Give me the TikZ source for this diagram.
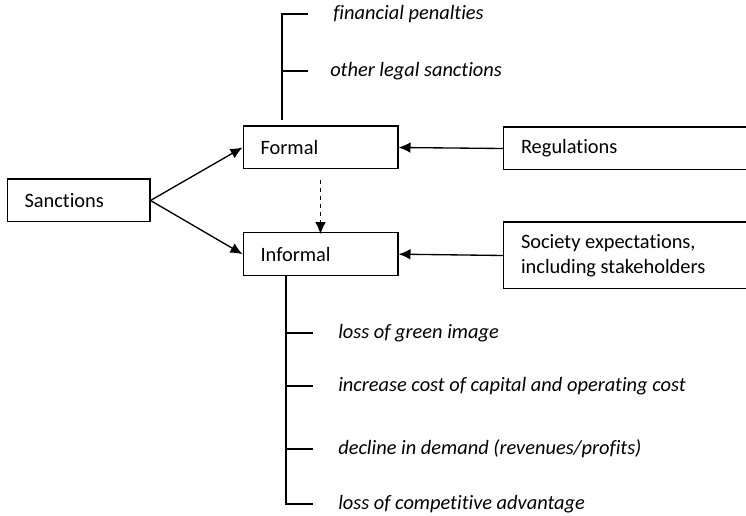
\documentclass[tikz,border=0pt]{standalone}
\usepackage{fontspec}
\setmainfont{Carlito}[Ligatures=NoCommon]
\usetikzlibrary{arrows.meta, positioning}
\tikzset{
	box/.style={draw, rectangle, line width=1pt, inner xsep=13pt, inner ysep=0pt, minimum height=32pt, align=flush left},
	item/.style={inner sep=0pt, anchor=west, font=\fontsize{15.3}{18.5}\selectfont\itshape},
	% tree lines next to the boxes
	branch/.style={line width=1.2pt},
}

\begin{document}
\begin{tikzpicture}[x=0.75pt, y=-0.75pt, font=\fontsize{15.3}{18.5}\selectfont]
			\useasboundingbox (0,0) rectangle (746,516);
			\clip (0,0) rectangle (746,516);
			
			\node (sanctions) [box, text width=81pt] at (78.5,200.5) {Sanctions};
			\node (formal) [box, text width=90pt] at (320.5,147.5) {Formal};
			\node (informal) [box, text width=90pt, below=47pt of formal] {Informal};
			
			\node (regulations) [box, text width=169pt, anchor=west] at (503,148.5) {Regulations};
			\node (society) [box, text width=169pt, minimum height=50pt, anchor=west] at (503,255.5) {Society expectations,\\including stakeholders};
			
			% formal sanctions
			\node (fin) [item] at (333,14) {financial penalties};
			\node (legal) [item] at (330,71) {other legal sanctions};
			\coordinate (fbase) at (282,120);
			\coordinate (ftick) at (308,0);
			
			% informal sanctions
			\node (green) [item] at (338,333) {loss of green image};
			\node (cost) [item] at (338,386) {increase cost of capital and operating cost};
			\node (demand) [item] at (338,449) {decline in demand (revenues/profits)};
			\node (advantage) [item] at (338,504) {loss of competitive advantage};
			\coordinate (ibase) at (286,0);
			\coordinate (itick) at (313,0);
			
			\begin{scope}[branch]
				\draw (fbase) |- (fin.west -| ftick);
				\draw (legal.west -| fbase) -- (legal.west -| ftick);
				\draw (informal.south -| ibase) |- (advantage.west -| itick);
				\draw (green.west -| ibase) -- (green.west -| itick);
				\draw (cost.west -| ibase) -- (cost.west -| itick);
				\draw (demand.west -| ibase) -- (demand.west -| itick);
			\end{scope}
			
			\begin{scope}[line width=1pt, black, ->, >={Latex[length=9pt, width=8pt]}]
				\draw (sanctions.east) -- (formal.west);
				\draw (sanctions.east) -- (informal.west);
				\draw (regulations.west) -- (formal.east);
				\draw (society.west) -- (informal.east);
				\draw [dashed] ([yshift=-8pt]formal.south) -- ([yshift=-1.5pt]informal.north);
			\end{scope}
		\end{tikzpicture}
\end{document}
